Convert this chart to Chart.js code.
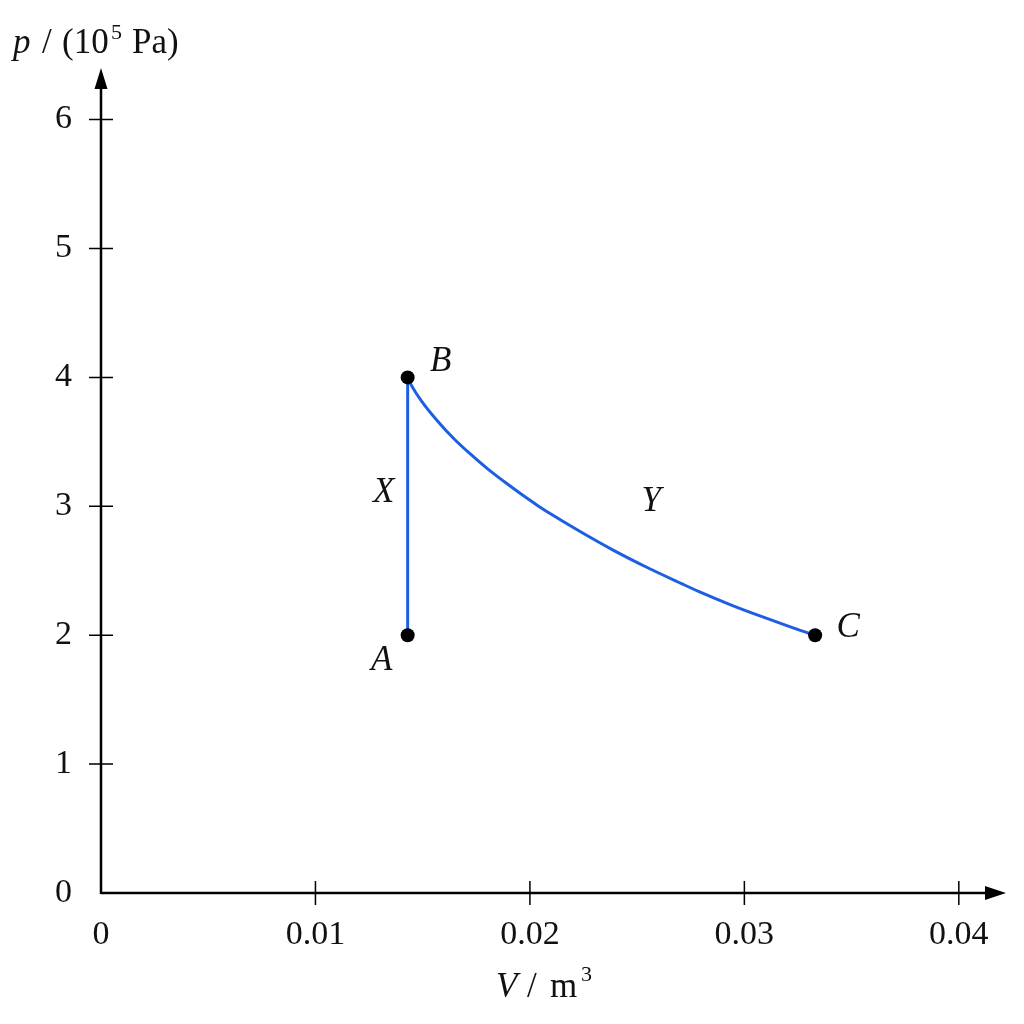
<!DOCTYPE html>
<html>
<head>
<meta charset="utf-8">
<title>p-V diagram</title>
<script src="https://cdn.jsdelivr.net/npm/chart.js@4.4.1/dist/chart.umd.min.js"></script>
<style>
  html, body { margin: 0; padding: 0; background: #fff; }
  #wrap { width: 1024px; height: 1024px; }
</style>
</head>
<body>
<div id="wrap"><canvas id="pvChart" width="1024" height="1024"></canvas></div>
<script>
// --- values ---
const xTickValues = [0, 0.01, 0.02, 0.03, 0.04];
const yTickValues = [0, 1, 2, 3, 4, 5, 6];

const stateNames = ['A', 'B', 'C'];
const stateVolume = [0.0143, 0.0143, 0.0333];
const statePressure = [2, 4, 2];

// process X: A -> B, volume stays the same
const processXVolume = [0.0143, 0.0143];
const processXPressure = [2, 4];

// process Y: curve B -> C
const processYVolume = [0.0143, 0.01447, 0.01493, 0.0157, 0.01648, 0.01726, 0.01803, 0.01881, 0.01959, 0.02037,
    0.02117, 0.02228, 0.02388, 0.02547, 0.02707, 0.02786, 0.02945, 0.03105, 0.03264, 0.0333];
const processYPressure = [4.00, 3.94, 3.82, 3.66, 3.52, 3.40, 3.29, 3.19, 3.095, 3.005,
    2.92, 2.81, 2.66, 2.525, 2.40, 2.34, 2.23, 2.13, 2.035, 2.00];

const toPoints = (xs, ys) => xs.map((v, i) => ({ x: v, y: ys[i] }));

const BLUE = '#1d5fe3';
const SERIF = '"Liberation Serif", "DejaVu Serif", serif';

// label offsets (px) from the anchor they belong to
const stateLabelOffset = { A: [-26, 26], B: [33, -16], C: [33, -7] };

// --- axes, arrows, crossing ticks and the letters ---
const pvDecor = {
    id: 'pvDecor',
    beforeDraw(chart) {
        const ctx = chart.ctx;
        ctx.save();
        ctx.fillStyle = '#fff';
        ctx.fillRect(0, 0, chart.width, chart.height);
        ctx.restore();
    },
    beforeDatasetsDraw(chart) {
        const { ctx, chartArea } = chart;
        const x = chart.scales.x, y = chart.scales.y;
        const x0 = x.getPixelForValue(0), y0 = y.getPixelForValue(0);
        const xEnd = chartArea.right, yEnd = chartArea.top;

        ctx.save();
        ctx.strokeStyle = '#000';
        ctx.fillStyle = '#000';
        ctx.lineWidth = 2.5;
        ctx.beginPath();
        ctx.moveTo(x0, y0); ctx.lineTo(xEnd - 16, y0);
        ctx.moveTo(x0, y0 + 1); ctx.lineTo(x0, yEnd + 16);
        ctx.stroke();

        // arrow heads
        ctx.beginPath();
        ctx.moveTo(xEnd, y0); ctx.lineTo(xEnd - 21, y0 - 7); ctx.lineTo(xEnd - 21, y0 + 7); ctx.closePath();
        ctx.moveTo(x0, yEnd); ctx.lineTo(x0 - 6.5, yEnd + 21); ctx.lineTo(x0 + 6.5, yEnd + 21); ctx.closePath();
        ctx.fill();

        // tick marks cross the axis line
        ctx.lineWidth = 1.5;
        ctx.beginPath();
        xTickValues.forEach(v => {
            if (v === 0) return;
            const px = x.getPixelForValue(v);
            ctx.moveTo(px, y0 - 12); ctx.lineTo(px, y0 + 12);
        });
        yTickValues.forEach(v => {
            if (v === 0) return;
            const py = y.getPixelForValue(v);
            ctx.moveTo(x0 - 12, py); ctx.lineTo(x0 + 12, py);
        });
        ctx.stroke();
        ctx.restore();
    },
    afterDatasetsDraw(chart) {
        const ctx = chart.ctx;
        const x = chart.scales.x, y = chart.scales.y;
        ctx.save();
        ctx.fillStyle = '#111';
        ctx.textAlign = 'center';
        ctx.textBaseline = 'middle';
        ctx.font = 'italic 35px ' + SERIF;

        stateNames.forEach((name, i) => {
            const off = stateLabelOffset[name];
            ctx.fillText(name, x.getPixelForValue(stateVolume[i]) + off[0], y.getPixelForValue(statePressure[i]) + off[1]);
        });

        // X beside the middle of the vertical line
        const xMidV = processXVolume[0];
        const xMidP = (processXPressure[0] + processXPressure[1]) / 2;
        ctx.fillText('X', x.getPixelForValue(xMidV) - 24, y.getPixelForValue(xMidP) - 13);

        // Y above the curve
        const k = 13;
        ctx.fillText('Y', x.getPixelForValue(processYVolume[k]) + 4, y.getPixelForValue(processYPressure[k]) - 66);

        // axis titles
        ctx.textAlign = 'left';
        ctx.textBaseline = 'alphabetic';
        ctx.font = 'italic 35px ' + SERIF;
        ctx.fillText('p', 13, 53);
        ctx.font = '35px ' + SERIF;
        ctx.fillText('/', 42, 53);
        ctx.fillText('(10', 62, 53);
        ctx.font = '22px ' + SERIF;
        ctx.fillText('5', 111, 39);
        ctx.font = '35px ' + SERIF;
        ctx.fillText('Pa)', 132, 53);

        ctx.font = 'italic 35px ' + SERIF;
        ctx.fillText('V', 496, 997);
        ctx.font = '35px ' + SERIF;
        ctx.fillText('/', 527, 997);
        ctx.fillText('m', 550, 997);
        ctx.font = '22px ' + SERIF;
        ctx.fillText('3', 581, 981);
        ctx.restore();
    }
};

const tickFont = { family: SERIF, size: 34 };

new Chart(document.getElementById('pvChart').getContext('2d'), {
    type: 'scatter',
    data: {
        datasets: [
            {
                label: 'states',
                data: toPoints(stateVolume, statePressure),
                showLine: false,
                pointRadius: 7,
                pointBackgroundColor: '#000',
                pointBorderColor: '#000',
                pointBorderWidth: 0,
                order: 0
            },
            {
                label: 'X',
                data: toPoints(processXVolume, processXPressure),
                showLine: true,
                borderColor: BLUE,
                borderWidth: 3,
                pointRadius: 0,
                order: 1
            },
            {
                label: 'Y',
                data: toPoints(processYVolume, processYPressure),
                showLine: true,
                borderColor: BLUE,
                borderWidth: 3,
                pointRadius: 0,
                cubicInterpolationMode: 'monotone',
                order: 2
            }
        ]
    },
    options: {
        responsive: false,
        devicePixelRatio: 1,
        animation: false,
        layout: { padding: { top: 68, right: 18, left: 0, bottom: 0 } },
        plugins: {
            legend: { display: false },
            tooltip: { enabled: false }
        },
        scales: {
            x: {
                type: 'linear',
                min: 0,
                max: 0.0422,
                afterBuildTicks: scale => { scale.ticks = xTickValues.map(v => ({ value: v })); },
                afterFit: scale => { scale.height = 131; },
                grid: { display: false, drawTicks: false },
                border: { display: false },
                ticks: {
                    font: tickFont,
                    color: '#111',
                    padding: 22,
                    maxRotation: 0,
                    callback: v => String(v)
                }
            },
            y: {
                type: 'linear',
                min: 0,
                max: 6.4,
                afterBuildTicks: scale => { scale.ticks = yTickValues.map(v => ({ value: v })); },
                afterFit: scale => { scale.width = 101; },
                grid: { display: false, drawTicks: false },
                border: { display: false },
                ticks: {
                    font: tickFont,
                    color: '#111',
                    padding: 29,
                    callback: v => String(v)
                }
            }
        }
    },
    plugins: [pvDecor]
});
</script>
</body>
</html>
